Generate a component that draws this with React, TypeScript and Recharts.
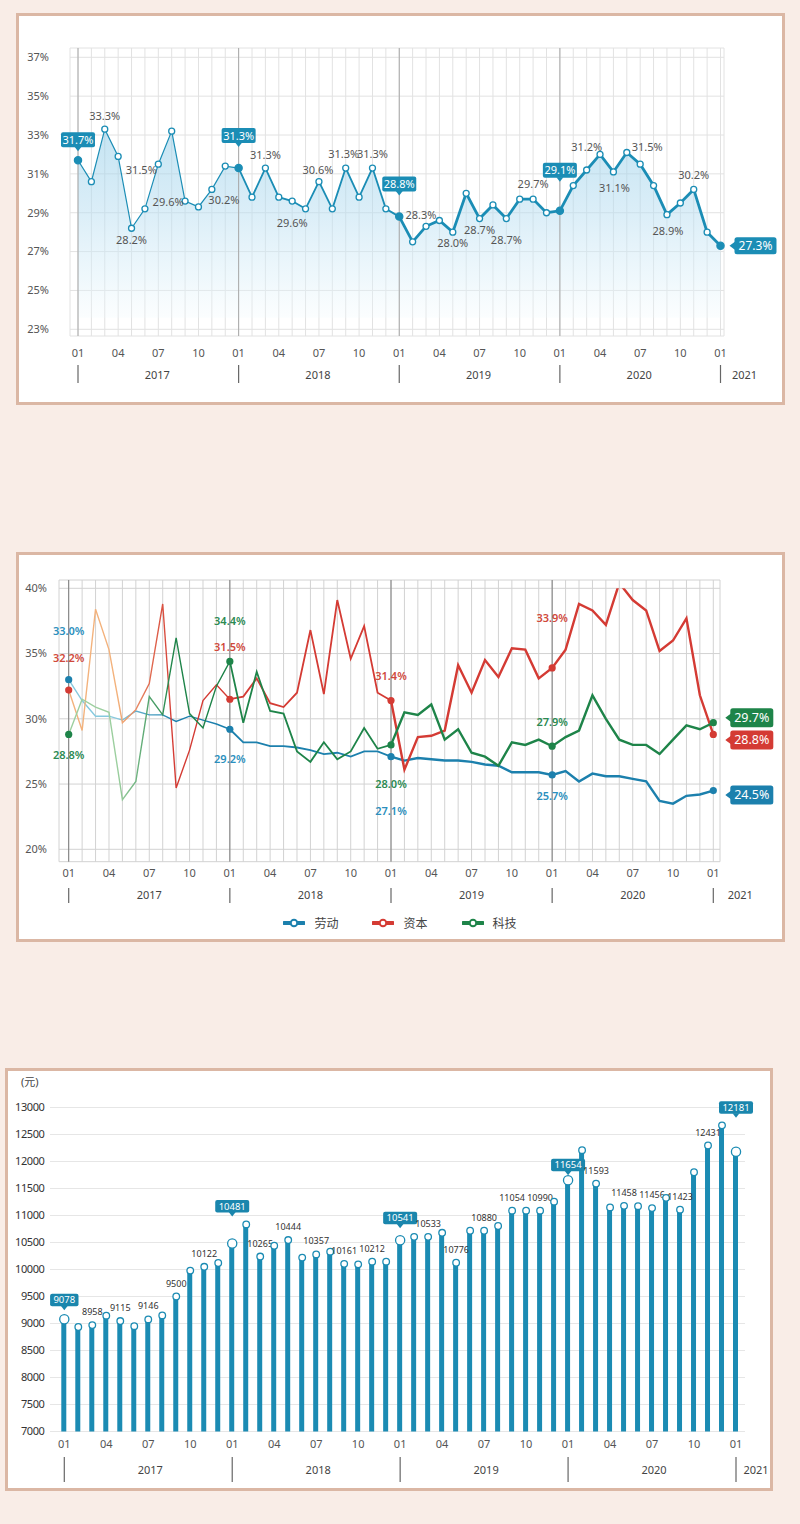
import { ComposedChart, Line, Area, Bar, XAxis, YAxis, CartesianGrid, ReferenceLine } from 'recharts';

const FONT = "'Noto Sans', 'Noto Sans CJK SC', sans-serif";
const PAGE_BG = '#f9ede7';
const FRAME = '#dbb7a4';

const years = ['2017', '2018', '2019', '2020', '2021'];
const monthNames = ['01', '02', '03', '04', '05', '06', '07', '08', '09', '10', '11', '12'];
const monthTicks = ['01', '04', '07', '10'];
// 2017-01 ... 2021-01
const months: string[] = years.flatMap((y) => (y === '2021' ? ['01'] : monthNames).map((m) => `${y}-${m}`));
const allIdx = months.map((_, i) => i);

// chart 1: share (%)
const shareValues = [
  31.7, 30.6, 33.3, 31.9, 28.2, 29.2, 31.5, 33.2, 29.6, 29.3, 30.2, 31.4,
  31.3, 29.8, 31.3, 29.8, 29.6, 29.2, 30.6, 29.2, 31.3, 29.8, 31.3, 29.2,
  28.8, 27.5, 28.3, 28.6, 28.0, 30.0, 28.7, 29.4, 28.7, 29.7, 29.7, 29.0,
  29.1, 30.4, 31.2, 32.0, 31.1, 32.1, 31.5, 30.4, 28.9, 29.5, 30.2, 28.0,
  27.3,
];
const shareTicks = [23, 25, 27, 29, 31, 33, 35, 37];

// chart 2: 劳动 / 资本 / 科技 (%)
const laborValues = [
  33.0, 31.4, 30.2, 30.2, 29.9, 30.6, 30.3, 30.3, 29.8, 30.2, 29.9, 29.6,
  29.2, 28.2, 28.2, 27.9, 27.9, 27.8, 27.6, 27.3, 27.4, 27.1, 27.5, 27.5,
  27.1, 26.8, 27.0, 26.9, 26.8, 26.8, 26.7, 26.5, 26.4, 25.9, 25.9, 25.9,
  25.7, 26.0, 25.2, 25.8, 25.6, 25.6, 25.4, 25.2, 23.7, 23.5, 24.1, 24.2,
  24.5,
];
const capitalValues = [
  32.2, 29.1, 38.4, 35.3, 29.7, 30.7, 32.7, 38.8, 24.7, 27.6, 31.4, 32.6,
  31.5, 31.7, 33.1, 31.2, 30.9, 32.0, 36.8, 31.9, 39.1, 34.6, 37.1, 32.0,
  31.4, 26.1, 28.6, 28.7, 29.1, 34.1, 32.0, 34.5, 33.2, 35.4, 35.3, 33.1,
  33.9, 35.3, 38.8, 38.3, 37.2, 40.4, 39.1, 38.3, 35.2, 36.0, 37.7, 31.8,
  28.8,
];
const techValues = [
  28.8, 31.5, 30.9, 30.5, 23.8, 25.2, 31.7, 30.3, 36.2, 30.4, 29.3, 32.5,
  34.4, 29.7, 33.6, 30.6, 30.4, 27.5, 26.7, 28.2, 26.9, 27.5, 29.3, 27.7,
  28.0, 30.5, 30.3, 31.1, 28.4, 29.2, 27.4, 27.1, 26.4, 28.2, 28.0, 28.4,
  27.9, 28.6, 29.1, 31.8, 30.0, 28.4, 28.0, 28.0, 27.3, 28.4, 29.5, 29.2,
  29.7,
];
const mixTicks = [20, 25, 30, 35, 40];

// chart 3: wage (元)
const wageValues = [
  9078, 8935, 8970, 9145, 9045, 8950, 9075, 9150, 9500, 9980, 10050, 10120,
  10481, 10835, 10240, 10440, 10545, 10220, 10280, 10330, 10105, 10095, 10145, 10145,
  10541, 10605, 10605, 10680, 10125, 10718, 10718, 10806, 11089, 11089, 11089, 11256,
  11654, 12210, 11591, 11149, 11179, 11173, 11137, 11327, 11107, 11801, 12296, 12669,
  12181,
];
const wageTicks = [7000, 7500, 8000, 8500, 9000, 9500, 10000, 10500, 11000, 11500, 12000, 12500, 13000];
const wageNotes: Record<number, string> = {
  2: '8958', 4: '9115', 6: '9146', 8: '9500', 10: '10122',
  14: '10265', 16: '10444', 18: '10357', 20: '10161', 22: '10212',
  26: '10533', 28: '10776', 30: '10880', 32: '11054', 34: '10990',
  38: '11593', 40: '11458', 42: '11456', 44: '11423', 46: '12431',
};

type AxisRows = { step: number; month: number; year: number; sep: [number, number]; yearDx: number; lastDx: number };

const makeTimeTick = (rows: AxisRows) => (props: any) => {
  const { x, y, payload } = props;
  const i = Number(payload.value);
  const [yy, mm] = months[i].split('-');
  const last = i === months.length - 1;
  return (
    <g key={`t-${i}`}>
      {monthTicks.includes(mm) && (
        <text x={x} y={y + rows.month} textAnchor="middle" fontSize={11} fill="#555" fontFamily={FONT}>
          {mm}
        </text>
      )}
      {mm === '01' && (
        <>
          <line x1={x} x2={x} y1={y + rows.sep[0]} y2={y + rows.sep[1]} stroke="#666" strokeWidth={1.2} />
          <text
            x={last ? x + rows.lastDx : x + rows.step * 6 + rows.yearDx}
            y={y + rows.year}
            textAnchor="middle"
            fontSize={11}
            fill="#444"
            fontFamily={FONT}
          >
            {yy}
          </text>
        </>
      )}
    </g>
  );
};

function Callout({ x, y, text, color, side = 'up', fontSize = 11, h = 15, w }: any) {
  const width = w ?? text.length * fontSize * 0.56 + 5;
  if (side === 'right') {
    const bx = x + 5;
    return (
      <g>
        <path d={`M${x},${y} L${bx + 1},${y - 4.5} L${bx + 1},${y + 4.5} Z`} fill={color} />
        <rect x={bx} y={y - h / 2} width={width} height={h} rx={2.5} fill={color} />
        <text x={bx + width / 2} y={y + fontSize * 0.36} textAnchor="middle" fontSize={fontSize} fill="#fff" fontFamily={FONT}>
          {text}
        </text>
      </g>
    );
  }
  const by = y - 4 - h;
  return (
    <g>
      <path d={`M${x - 3.5},${y - 4.5} L${x + 3.5},${y - 4.5} L${x},${y} Z`} fill={color} />
      <rect x={x - width / 2} y={by} width={width} height={h} rx={2} fill={color} />
      <text x={x} y={by + h / 2 + fontSize * 0.36} textAnchor="middle" fontSize={fontSize} fill="#fff" fontFamily={FONT}>
        {text}
      </text>
    </g>
  );
}

/* ---------------- chart 1 ---------------- */

const TEAL = '#1b8db5';
const shareData = shareValues.map((v, i) => ({
  i,
  v,
  a: i <= 12 ? v : null,
  b: i >= 12 && i <= 24 ? v : null,
  c: i >= 24 ? v : null,
}));
const shareCallouts: Record<number, number> = { 0: 9, 12: 21, 24: 21, 36: 29 };
const shareNotes: Record<number, [number, number]> = {
  2: [0, -13], 4: [0, 12], 6: [-17, 6], 8: [-17, 1], 10: [12, 11],
  14: [0, -13], 16: [0, 22], 18: [-1, -12], 20: [-2, -14], 22: [0, -14],
  26: [-5, -11], 28: [0, 11], 30: [0, 11], 32: [0, 21], 34: [0, -15],
  38: [0, -23], 40: [1, 16], 42: [7, -17], 44: [1, 16], 46: [0, -14],
};

const shareDot = (p: any) => {
  const { cx, cy, index } = p;
  const text = `${p.payload.v.toFixed(1)}%`;
  const filled = index % 12 === 0;
  const note = shareNotes[index];
  return (
    <g key={`sd-${index}`}>
      <circle cx={cx} cy={cy} r={filled ? 3.6 : 3} fill={filled ? TEAL : '#fff'} stroke={TEAL} strokeWidth={1.3} />
      {note && (
        <text x={cx + note[0]} y={cy + note[1] + 4} textAnchor="middle" fontSize={11} fill="#555" fontFamily={FONT}>
          {text}
        </text>
      )}
      {shareCallouts[index] !== undefined && (
        <Callout x={cx} y={cy - shareCallouts[index]} text={text} color={TEAL} w={text.length * 6 + 4} />
      )}
      {index === shareValues.length - 1 && (
        <Callout side="right" x={cx + 9} y={cy} text={text} color={TEAL} fontSize={12} h={17} w={42} />
      )}
    </g>
  );
};

function ShareChart() {
  const step = (724 - 3.5 - 70 - 8) / 48;
  return (
    <ComposedChart width={800} height={410} data={shareData} margin={{ top: 48, right: 76, bottom: 24, left: 20 }}>
      <defs>
        <linearGradient id="shareFill" x1="0" y1="0" x2="0" y2="1">
          <stop offset="0%" stopColor="#93cde8" stopOpacity={0.9} />
          <stop offset="45%" stopColor="#b9def1" stopOpacity={0.85} />
          <stop offset="80%" stopColor="#dcf0f9" stopOpacity={0.75} />
          <stop offset="100%" stopColor="#eef8fc" stopOpacity={0.4} />
        </linearGradient>
      </defs>
      <CartesianGrid stroke="#e2e2e2" />
      <XAxis
        type="number"
        dataKey="i"
        domain={[0, 48]}
        ticks={allIdx}
        interval={0}
        height={50}
        axisLine={false}
        tickLine={false}
        tickSize={0}
        tickMargin={0}
        padding={{ left: 8, right: 3.5 }}
        tick={makeTimeTick({ step, month: 21, year: 43, sep: [29, 47], yearDx: -1, lastDx: 24 })}
      />
      <YAxis
        domain={[23, 37]}
        ticks={shareTicks}
        width={50}
        axisLine={false}
        tickLine={false}
        tickSize={0}
        tickMargin={21}
        padding={{ top: 9.3, bottom: 6.7 }}
        tick={{ fontSize: 11, fill: '#555', fontFamily: FONT }}
        tickFormatter={(v) => `${v}%`}
      />
      {[0, 12, 24, 36].map((x) => (
        <ReferenceLine key={x} x={x} stroke="#a8a8a8" />
      ))}
      <Area dataKey="v" baseValue={23.6} fill="url(#shareFill)" stroke="none" isAnimationActive={false} activeDot={false} />
      <Line dataKey="a" stroke={TEAL} strokeWidth={1.2} dot={false} activeDot={false} isAnimationActive={false} />
      <Line dataKey="b" stroke={TEAL} strokeWidth={1.8} dot={false} activeDot={false} isAnimationActive={false} />
      <Line dataKey="c" stroke={TEAL} strokeWidth={2.8} dot={false} activeDot={false} isAnimationActive={false} />
      <Line dataKey="v" stroke="none" dot={shareDot} activeDot={false} isAnimationActive={false} />
    </ComposedChart>
  );
}

/* ---------------- chart 2 ---------------- */

const mixSeries = [
  { key: 'labor', name: '劳动', color: '#1c80ad', light: '#86c9de', text: '#2b8fbd', values: laborValues },
  { key: 'capital', name: '资本', color: '#d43b34', light: '#f3b27c', text: '#d0493b', values: capitalValues },
  { key: 'tech', name: '科技', color: '#1e8449', light: '#9ccf9f', text: '#2b8a52', values: techValues },
];

const mixData = months.map((_, i) => {
  const row: Record<string, number | null> = { i };
  mixSeries.forEach((s) => {
    const v = s.values[i];
    row[s.key] = v;
    row[`${s.key}1`] = i <= 12 ? v : null;
    row[`${s.key}2`] = i >= 12 && i <= 24 ? v : null;
    row[`${s.key}3`] = i >= 24 ? v : null;
  });
  return row;
});

// label offsets (text centre above/below the point) at each January
const mixNoteDy: Record<string, Record<number, number>> = {
  labor: { 0: -49, 12: 30, 24: 54, 36: 21 },
  capital: { 0: -32, 12: -52, 24: -25, 36: -50 },
  tech: { 0: 21, 12: -40, 24: 39, 36: -24 },
};
const mixEndDy: Record<string, number> = { labor: 4.4, capital: 5.5, tech: -5 };

const mixDot = (s: (typeof mixSeries)[number]) => (p: any) => {
  const { cx, cy, index } = p;
  if (index % 12 !== 0) return <g key={`md-${s.key}-${index}`} />;
  const text = `${p.payload[s.key].toFixed(1)}%`;
  const last = index === months.length - 1;
  return (
    <g key={`md-${s.key}-${index}`}>
      <circle cx={cx} cy={cy} r={3.6} fill={s.color} />
      {!last && (
        <text
          x={cx}
          y={cy + mixNoteDy[s.key][index] + 4}
          textAnchor="middle"
          fontSize={11}
          fontWeight={600}
          fill={s.text}
          fontFamily={FONT}
        >
          {text}
        </text>
      )}
      {last && (
        <Callout side="right" x={cx + 12} y={cy + mixEndDy[s.key]} text={text} color={s.color} fontSize={12.5} h={19} w={43} />
      )}
    </g>
  );
};

function MixChart() {
  const step = (720 - 6.7 - 59 - 9.7) / 48;
  return (
    <ComposedChart width={800} height={400} data={mixData} margin={{ top: 40, right: 80, bottom: 28.3, left: 14 }}>
      <defs>
        {mixSeries.map((s) => (
          <linearGradient key={s.key} id={`fade-${s.key}`} x1="0" y1="0" x2="1" y2="0">
            <stop offset="0%" stopColor={s.light} />
            <stop offset="30%" stopColor={s.light} />
            <stop offset="65%" stopColor={s.color} />
            <stop offset="100%" stopColor={s.color} />
          </linearGradient>
        ))}
      </defs>
      <CartesianGrid stroke="#d2d2d2" />
      <XAxis
        type="number"
        dataKey="i"
        domain={[0, 48]}
        ticks={allIdx}
        interval={0}
        height={50}
        axisLine={false}
        tickLine={false}
        tickSize={0}
        tickMargin={0}
        padding={{ left: 9.7, right: 6.7 }}
        tick={makeTimeTick({ step, month: 15.5, year: 37.2, sep: [26.3, 41.3], yearDx: 0, lastDx: 27 })}
      />
      <YAxis
        domain={[20, 40]}
        allowDataOverflow
        ticks={mixTicks}
        width={45}
        axisLine={false}
        tickLine={false}
        tickSize={0}
        tickMargin={12}
        padding={{ top: 8.3, bottom: 12.4 }}
        tick={{ fontSize: 11, fill: '#555', fontFamily: FONT }}
        tickFormatter={(v) => `${v}%`}
      />
      {[0, 12, 24, 36].map((x) => (
        <ReferenceLine key={x} x={x} stroke="#7c7c7c" />
      ))}
      {mixSeries.map((s) => [
        <Line key={`${s.key}1`} dataKey={`${s.key}1`} stroke={`url(#fade-${s.key})`} strokeWidth={1.4} dot={false} activeDot={false} isAnimationActive={false} />,
        <Line key={`${s.key}2`} dataKey={`${s.key}2`} stroke={s.color} strokeWidth={1.8} dot={false} activeDot={false} isAnimationActive={false} />,
        <Line key={`${s.key}3`} dataKey={`${s.key}3`} stroke={s.color} strokeWidth={2.4} dot={false} activeDot={false} isAnimationActive={false} />,
      ])}
      {mixSeries.map((s) => (
        <Line key={`${s.key}-dots`} dataKey={s.key} stroke="none" dot={mixDot(s)} activeDot={false} isAnimationActive={false} />
      ))}
    </ComposedChart>
  );
}

function MixLegend() {
  return (
    <div
      style={{
        position: 'absolute',
        top: 914,
        left: 0,
        width: 800,
        height: 18,
        display: 'flex',
        justifyContent: 'center',
        alignItems: 'center',
        gap: 34,
        fontSize: 12,
        color: '#444',
        fontFamily: FONT,
      }}
    >
      {mixSeries.map((s) => (
        <div key={s.key} style={{ display: 'flex', alignItems: 'center', gap: 9 }}>
          <svg width={22} height={10}>
            <line x1={1} x2={21} y1={5} y2={5} stroke={s.color} strokeWidth={4} strokeLinecap="round" />
            <circle cx={11} cy={5} r={3.3} fill="#fff" stroke={s.color} strokeWidth={2} />
          </svg>
          <span>{s.name}</span>
        </div>
      ))}
    </div>
  );
}

/* ---------------- chart 3 ---------------- */

const BAR = '#1b8bb3';
const wageData = wageValues.map((w, i) => ({ i, w }));
const wageCallouts: Record<number, number> = { 0: 9, 12: 27, 24: 12, 36: 5, 48: 34 };

const wageDot = (p: any) => {
  const { cx, cy, index } = p;
  const big = wageCallouts[index] !== undefined;
  const note = wageNotes[index];
  return (
    <g key={`wd-${index}`}>
      <circle cx={cx} cy={cy} r={big ? 4.6 : 3.3} fill="#fff" stroke={BAR} strokeWidth={1.3} />
      {note && (
        <text x={cx} y={cy - 13 + 3} textAnchor="middle" fontSize={9} fill="#333" fontFamily={FONT}>
          {note}
        </text>
      )}
      {big && (
        <Callout
          x={cx}
          y={cy - wageCallouts[index]}
          text={String(p.payload.w)}
          color="#1a86ad"
          fontSize={9.5}
          h={12.5}
          w={String(p.payload.w).length * 5.6 + 6}
        />
      )}
    </g>
  );
};

function WageChart() {
  const step = (745 - 2 - 50 - 7.3) / 49;
  return (
    <ComposedChart width={800} height={440} data={wageData} margin={{ top: 47.5, right: 55, bottom: 18.5, left: 6 }}>
      <CartesianGrid stroke="#e6e6e6" vertical={false} />
      <XAxis
        type="category"
        dataKey="i"
        ticks={allIdx}
        interval={0}
        height={50}
        axisLine={false}
        tickLine={false}
        tickSize={0}
        tickMargin={0}
        padding={{ left: 7.3, right: 2 }}
        tick={makeTimeTick({ step, month: 16.7, year: 42.4, sep: [25.5, 50.5], yearDx: 2, lastDx: 20 })}
      />
      <YAxis
        domain={[7000, 13000]}
        ticks={wageTicks}
        width={44}
        axisLine={false}
        tickLine={false}
        tickSize={0}
        tickMargin={5.5}
        tick={{ fontSize: 11, fill: '#333', fontFamily: FONT, letterSpacing: -0.4 }}
      />
      <Bar dataKey="w" fill={BAR} barSize={5} isAnimationActive={false} />
      <Line dataKey="w" stroke="none" dot={wageDot} activeDot={false} isAnimationActive={false} />
    </ComposedChart>
  );
}

const frame = (left: number, top: number, width: number, height: number): React.CSSProperties => ({
  position: 'absolute',
  left,
  top,
  width,
  height,
  boxSizing: 'border-box',
  border: `3px solid ${FRAME}`,
  background: '#fff',
});

export default function App() {
  return (
    <div
      style={{
        position: 'absolute',
        left: 0,
        top: 0,
        width: 800,
        height: 1524,
        background: PAGE_BG,
        fontFamily: FONT,
        overflow: 'hidden',
      }}
    >
      <div style={frame(16, 13, 769, 392)} />
      <div style={frame(16, 552, 769, 390)} />
      <div style={frame(5, 1068, 768, 423)} />

      <div style={{ position: 'absolute', left: 0, top: 0 }}>
        <ShareChart />
      </div>
      <div style={{ position: 'absolute', left: 0, top: 540 }}>
        <MixChart />
      </div>
      <MixLegend />
      <div style={{ position: 'absolute', left: 21, top: 1073, fontSize: 11, color: '#444' }}>(元)</div>
      <div style={{ position: 'absolute', left: 0, top: 1060 }}>
        <WageChart />
      </div>
    </div>
  );
}
